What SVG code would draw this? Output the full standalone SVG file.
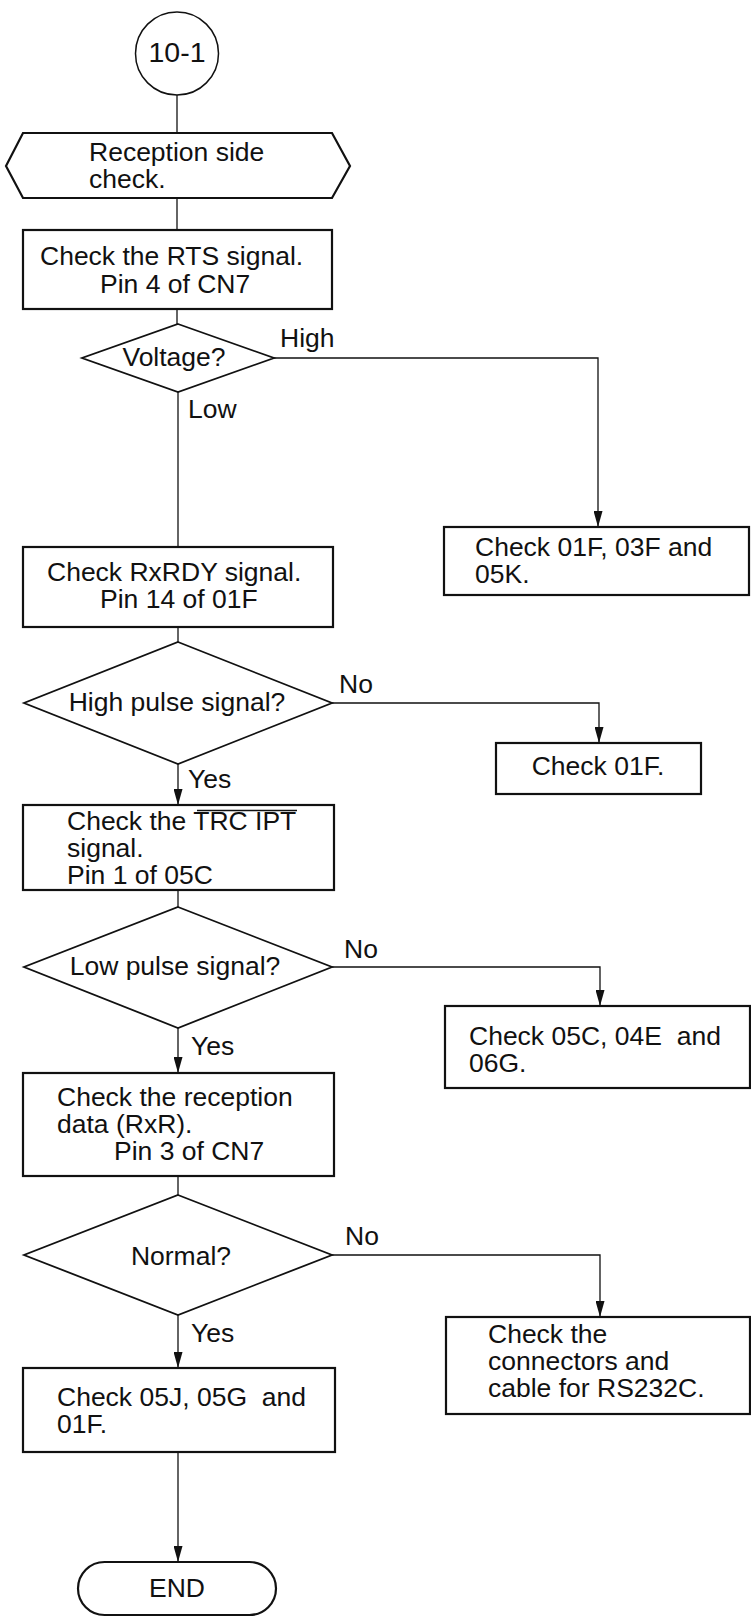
<svg xmlns="http://www.w3.org/2000/svg" width="751" height="1623" viewBox="0 0 751 1623">
<style>
text{font-family:"Liberation Sans",Arial,sans-serif;font-size:26.5px;fill:#111}
.c{text-anchor:middle}
.pre{white-space:pre}
.box{fill:#fff;stroke:#111;stroke-width:2.2}
.dia{fill:#fff;stroke:#111;stroke-width:1.8}
.ln{fill:none;stroke:#111;stroke-width:1.3}
.arr{fill:none;stroke:#111;stroke-width:1.3;marker-end:url(#ah)}
</style>
<defs>
<marker id="ah" markerUnits="userSpaceOnUse" markerWidth="16" markerHeight="9" refX="16" refY="4.5" orient="auto">
<path d="M0,0 L16,4.5 L0,9 z" fill="#111"/>
</marker>
</defs>
<g id="connectors">
<path class="ln" d="M177,95 V133"/>
<path class="ln" d="M177,198 V230"/>
<path class="ln" d="M177,309 V324"/>
<path class="arr" d="M274,358 H598 V527"/>
<path class="ln" d="M178,392 V547"/>
<path class="ln" d="M178,627 V642"/>
<path class="arr" d="M332,703 H599 V743"/>
<path class="arr" d="M178,764 V805"/>
<path class="ln" d="M178,890 V907"/>
<path class="arr" d="M332,967 H600 V1006"/>
<path class="arr" d="M178,1028 V1073"/>
<path class="ln" d="M178,1176 V1195"/>
<path class="arr" d="M332,1255 H600 V1317"/>
<path class="arr" d="M178,1315 V1368"/>
<path class="arr" d="M178,1452 V1562"/>
<text x="280" y="347">High</text>
<text x="188" y="418">Low</text>
<text x="339" y="693">No</text>
<text x="188" y="788">Yes</text>
<text x="344" y="958">No</text>
<text x="191" y="1055">Yes</text>
<text x="345" y="1245">No</text>
<text x="191" y="1342">Yes</text>
</g>
<g id="start">
<circle cx="177" cy="53.5" r="41.5" fill="#fff" stroke="#111" stroke-width="1.5"/>
<text class="c" x="177" y="62" style="font-size:28.5px">10-1</text>
</g>
<g id="reception">
<polygon class="box" points="6,166 23,133 332,133 350,166 332,198 23,198"/>
<text x="89" y="161">Reception side</text>
<text x="89" y="188">check.</text>
</g>
<g id="rts">
<rect class="box" x="23" y="230" width="309" height="79"/>
<text x="40" y="265">Check the RTS signal.</text>
<text x="100" y="293">Pin 4 of CN7</text>
</g>
<g id="voltage">
<polygon class="dia" points="178,324 274,358 178,392 82,358"/>
<text class="c" x="174" y="366">Voltage?</text>
</g>
<g id="check01f03f">
<rect class="box" x="444" y="527" width="305" height="68"/>
<text x="475" y="556">Check 01F, 03F and</text>
<text x="475" y="583">05K.</text>
</g>
<g id="rxrdy">
<rect class="box" x="23" y="547" width="310" height="80"/>
<text x="47" y="581">Check RxRDY signal.</text>
<text x="100" y="608">Pin 14 of 01F</text>
</g>
<g id="highpulse">
<polygon class="dia" points="178,642 332,703 178,764 24,703"/>
<text class="c" x="177" y="711">High pulse signal?</text>
</g>
<g id="check01f">
<rect class="box" x="496" y="743" width="205" height="51"/>
<text class="c" x="598" y="775">Check 01F.</text>
</g>
<g id="trcipt">
<rect class="box" x="23" y="805" width="311" height="85"/>
<text x="67" y="830">Check the TRC IPT</text>
<line x1="197" y1="810.5" x2="297" y2="810.5" stroke="#111" stroke-width="1.5"/>
<text x="67" y="857">signal.</text>
<text x="67" y="884">Pin 1 of 05C</text>
</g>
<g id="lowpulse">
<polygon class="dia" points="178,907 332,967 178,1028 24,967"/>
<text class="c" x="175" y="975">Low pulse signal?</text>
</g>
<g id="check05c">
<rect class="box" x="445" y="1006" width="305" height="82"/>
<text class="pre" xml:space="preserve" x="469" y="1045">Check 05C, 04E  and</text>
<text x="469" y="1072">06G.</text>
</g>
<g id="rxr">
<rect class="box" x="23" y="1073" width="311" height="103"/>
<text x="57" y="1106">Check the reception</text>
<text x="57" y="1133">data (RxR).</text>
<text x="114" y="1160">Pin 3 of CN7</text>
</g>
<g id="normal">
<polygon class="dia" points="178,1195 332,1255 178,1315 24,1255"/>
<text class="c" x="181" y="1265">Normal?</text>
</g>
<g id="checkcable">
<rect class="box" x="446" y="1317" width="304" height="97"/>
<text x="488" y="1343">Check the</text>
<text x="488" y="1370">connectors and</text>
<text x="488" y="1397">cable for RS232C.</text>
</g>
<g id="check05j">
<rect class="box" x="23" y="1368" width="312" height="84"/>
<text class="pre" xml:space="preserve" x="57" y="1406">Check 05J, 05G  and</text>
<text x="57" y="1433">01F.</text>
</g>
<g id="end">
<rect class="box" x="78" y="1562" width="198" height="53" rx="26.5"/>
<text class="c" x="177" y="1597">END</text>
</g>
</svg>
